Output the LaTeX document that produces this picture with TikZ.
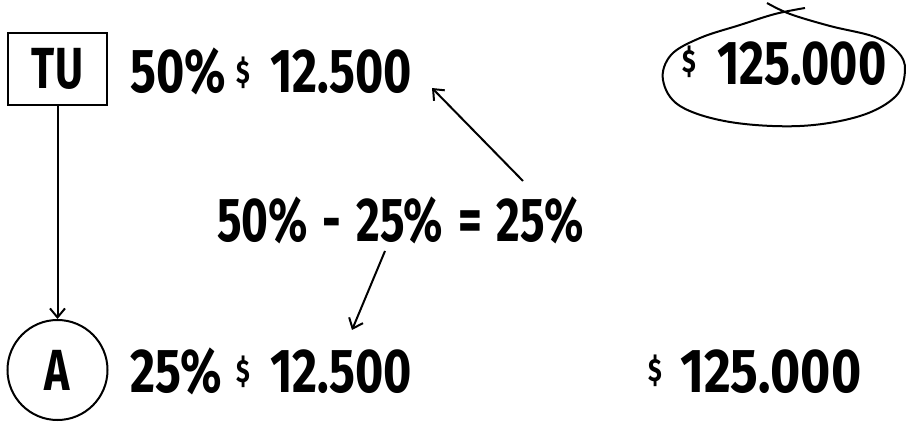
\documentclass[tikz,border=0pt]{standalone}
\usepackage{fontspec}
\newfontfamily\hand[FakeStretch=0.78]{Fira Sans}
\newfontfamily\handn[FakeStretch=0.74]{Fira Sans}
\usetikzlibrary{arrows.meta}
\tikzset{
  big/.style={font=\hand\bfseries\fontsize{62}{62}\selectfont, inner sep=0pt, anchor=base west},
  dollar/.style={font=\hand\bfseries\fontsize{32}{32}\selectfont, inner sep=0pt},
  tubox/.style={draw, line width=2pt, minimum width=99pt, minimum height=72pt, inner sep=0pt,
    font=\handn\bfseries\fontsize{58}{58}\selectfont},
  acircle/.style={draw, circle, line width=2pt, minimum size=100pt, inner sep=0pt,
    font=\handn\bfseries\fontsize{58}{58}\selectfont},
  arr/.style={line width=2pt, -{Straight Barb[length=9pt,width=15pt,line width=2pt]}},
}
\begin{document}
\begin{tikzpicture}[x=1pt,y=-1pt]
\useasboundingbox (0,0) rectangle (906,422);
% left column
\node[tubox] (tu) at (57.5,69) {TU};
\node[acircle] (a) at (57.5,370) {A};
\draw[arr] (tu.south) -- (a.north);
% top row
\node[big] (p1) at (130,93) {50\%};
\node[dollar] (d1) at (243,73) {\$};
\node[big] (v1) at (270,93) {12.500};
% bottom row
\node[big] (p2) at (130,392) {25\%};
\node[dollar] (d2) at (243,372) {\$};
\node[big] (v2) at (270,392) {12.500};
% bottom right
\node[dollar] (d4) at (655,371) {\$};
\node[big, xscale=1.07] (v4) at (680,392) {125.000};
% circled amount
\node[dollar] (d3) at (689,62) {\$};
\node[big] (v3) at (717,85) {125.000};
\draw[line width=2pt] plot[smooth, tension=0.6] coordinates {
  (767,3) (790,14) (830,26) (875,37) (898,52) (905,70) (896,96) (860,116)
  (800,126) (730,122) (680,106) (663,80) (671,55) (700,38) (740,25) (775,14) (805,8)};
% middle equation
\node[big, font=\handn\bfseries\fontsize{62}{62}\selectfont] (eq) at (217,242)
  {50\%\hspace{4pt} - \hspace{4pt}25\%\hspace{4pt} = \hspace{4pt}25\%};
\coordinate (e1) at (523,181);
\coordinate (e1t) at (432,88);
\coordinate (e2) at (385,251);
\coordinate (e2t) at (352,330);
\draw[arr] (e1) -- (e1t);
\draw[arr] (e2) -- (e2t);
\end{tikzpicture}
\end{document}
